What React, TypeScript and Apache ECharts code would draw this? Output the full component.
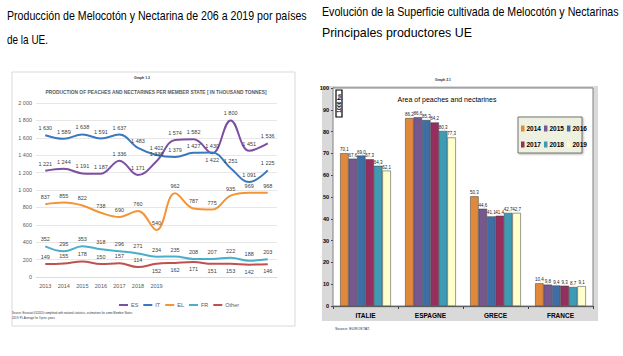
import React, { useEffect, useRef } from 'react';
import * as echarts from 'echarts';

// ---------- Page titles ----------
const leftTitleLines = ['Producción de Melocotón y Nectarina de 206 a 2019 por países', 'de la UE.'];
const rightTitleLines = ['Evolución de la Superficie cultivada de Melocotón y Nectarinas', 'Principales productores UE'];

// ---------- Left chart: production (thousand tonnes) ----------
const prodTitle = 'PRODUCTION OF PEACHES AND NECTARINES PER MEMBER STATE [ IN THOUSAND TONNES]';
const prodTickLabels = ['2013', '2014', '2015', '2016', '2017', '2018', '2019'];
const prodPointCount = 13;
const prodSeriesNames = ['ES', 'IT', 'EL', 'FR', 'Other'];
const prodES = [1221, 1244, 1191, 1187, 1336, 1171, 1330, 1574, 1582, 1422, 1800, 1451, 1536];
const prodIT = [1630, 1589, 1638, 1591, 1637, 1483, 1402, 1379, 1427, 1430, 1251, 1091, 1225];
const prodEL = [837, 855, 822, 738, 690, 760, 540, 962, 787, 775, 935, 969, 968];
const prodFR = [352, 295, 353, 318, 296, 271, 234, 235, 208, 207, 222, 188, 203];
const prodOther = [149, 155, 178, 150, 157, 114, 152, 162, 171, 151, 153, 142, 146];
const prodYTicks = { min: 0, max: 2000, interval: 200 };
const prodSource = [
  'Source: Eurostat 05/2020 completed with national statistics, estimations for some Member States',
  '2019: PL Average for 3 prev. years',
];

// ---------- Right chart: area (1000 ha) ----------
const areaTitle = 'Area of peaches and nectarines';
const areaCountries = ['ITALIE', 'ESPAGNE', 'GRECE', 'FRANCE'];
const areaYears = ['2014', '2015', '2016', '2017', '2018', '2019'];
const area2014 = [70.1, 86.2, 50.3, 10.4];
const area2015 = [67.6, 86.6, 44.6, 9.8];
const area2016 = [69.0, 85.3, 41.1, 9.4];
const area2017 = [67.3, 84.2, 41.4, 9.3];
const area2018 = [64.3, 80.3, 42.7, 8.7];
const area2019 = [62.1, 77.3, 42.7, 9.1];
const areaYTicks = { min: 0, max: 100, interval: 10 };

const NARROW = '"Liberation Sans Narrow", "Liberation Sans", Arial, sans-serif';
const SANS = '"Liberation Sans", Arial, sans-serif';

const fmtThousands = (v: number) => String(Math.round(v)).replace(/\B(?=(\d{3})+(?!\d))/g, ' ');
const fmtComma = (v: number) => v.toFixed(1).replace('.', ',');

function measure(text: string, font: string): number {
  const ctx = document.createElement('canvas').getContext('2d');
  if (!ctx) return 1;
  ctx.font = font;
  return ctx.measureText(text).width || 1;
}

function fittedText(text: string, x: number, y: number, font: string, target: number, fill: string, align = 'left'): any {
  const s = target / measure(text, font);
  return {
    type: 'text',
    x, y,
    scaleX: s,
    silent: true,
    z: 20,
    style: { text, x: 0, y: 0, font, fill, textAlign: align, textVerticalAlign: 'middle' },
  };
}

export default function App() {
  const ref = useRef<HTMLDivElement>(null);

  useEffect(() => {
    if (!ref.current) return;
    const chart = echarts.init(ref.current, undefined, { renderer: 'svg' });

    const categories = Array.from({ length: prodPointCount }, (_, i) => prodTickLabels[i] ?? '');
    const prodData = [prodES, prodIT, prodEL, prodFR, prodOther];
    const prodColors = ['#7D4FA3', '#3A78BF', '#F39537', '#4AADC9', '#C0504D'];

    const labelBelow = (si: number, i: number) => (si === 0 && i === 9) || (si === 4 && i >= 6);

    const lineSeries = prodData.map((d, si) => ({
      type: 'line',
      name: prodSeriesNames[si],
      xAxisIndex: 0,
      yAxisIndex: 0,
      smooth: 0.4,
      symbol: 'circle',
      symbolSize: 0.1,
      data: d.map((v, i) => (labelBelow(si, i) ? { value: v, label: { position: 'bottom' } } : v)),
      lineStyle: { color: prodColors[si], width: 2 },
      itemStyle: { color: prodColors[si] },
      label: {
        show: true,
        position: 'top',
        distance: 4,
        fontSize: 5.5,
        fontFamily: NARROW,
        color: '#404040',
        formatter: (p: any) => fmtThousands(p.value),
      },
    }));

    const areaData = [area2014, area2015, area2016, area2017, area2018, area2019];
    const areaColors = ['#E0893C', '#76588F', '#3F6EA6', '#952F60', '#3E9BB5', '#FFFFCC'];
    const barSeries = areaData.map((d, i) => ({
      type: 'bar',
      name: areaYears[i],
      xAxisIndex: 1,
      yAxisIndex: 1,
      data: d,
      barGap: '0%',
      barCategoryGap: '22%',
      itemStyle: { color: areaColors[i], borderColor: '#3a3a3a', borderWidth: 0.5 },
      label: {
        show: true,
        position: 'top',
        distance: 1,
        fontSize: 4.5,
        fontFamily: NARROW,
        color: '#222',
        formatter: (p: any) => fmtComma(p.value),
      },
    }));

    const titleFont = `13px ${SANS}`;

    const legendRow = (names: string[], top: number) => ({
      data: names, left: 519, top, itemWidth: 3.5, itemHeight: 6, itemGap: 3, z: 30,
      icon: 'rect', padding: 2,
      itemStyle: { borderWidth: 0 },
      textStyle: { fontSize: 6.5, fontWeight: 'bold', color: '#000', fontFamily: NARROW, padding: [0, 0, 0, -3] },
    });

    const option: any = {
      animation: false,
      backgroundColor: '#ffffff',
      textStyle: { fontFamily: NARROW },
      grid: [
        { left: 36, top: 103, width: 241, height: 174, containLabel: false },
        {
          left: 333, top: 88, width: 260, height: 218, show: true,
          backgroundColor: '#ffffff', borderColor: '#808080', borderWidth: 1, z: 1,
        },
      ],
      xAxis: [
        {
          type: 'category', gridIndex: 0, data: categories, boundaryGap: true,
          axisLine: { show: true, lineStyle: { color: '#d9d9d9', width: 0.8 } },
          axisTick: { show: false },
          axisLabel: { interval: 0, fontSize: 5.5, color: '#595959', margin: 6, fontFamily: NARROW },
        },
        {
          type: 'category', gridIndex: 1, data: areaCountries, boundaryGap: true,
          axisLine: { show: true, lineStyle: { color: '#404040', width: 1 } },
          axisTick: { show: true, length: 3, lineStyle: { color: '#404040' } },
          axisLabel: { fontSize: 6.5, fontWeight: 'bold', color: '#000', margin: 6, fontFamily: SANS },
        },
      ],
      yAxis: [
        {
          type: 'value', gridIndex: 0, ...prodYTicks,
          axisLine: { show: false }, axisTick: { show: false },
          splitLine: { lineStyle: { color: '#dcdcdc', width: 0.7 } },
          axisLabel: { fontSize: 5.5, color: '#595959', margin: 4, fontFamily: NARROW, formatter: (v: number) => fmtThousands(v) },
        },
        {
          type: 'value', gridIndex: 1, ...areaYTicks,
          axisLine: { show: true, lineStyle: { color: '#404040', width: 1 } },
          axisTick: { show: true, length: 2, lineStyle: { color: '#404040' } },
          splitLine: { lineStyle: { color: '#8a8a8a', width: 1.3 } },
          axisLabel: { fontSize: 5.5, fontWeight: 'bold', color: '#000', margin: 4, fontFamily: SANS },
        },
      ],
      legend: [
        {
          data: prodSeriesNames, left: 114, top: 297, itemWidth: 9, itemHeight: 2, itemGap: 5,
          icon: 'rect', textStyle: { fontSize: 5.5, color: '#595959', fontFamily: NARROW, padding: [0, 0, 0, -2] },
        },
        legendRow(areaYears.slice(0, 3), 123),
        legendRow(areaYears.slice(3), 139),
      ],
      graphic: [
        // left panel frame
        { type: 'rect', z: -10, silent: true, shape: { x: 12, y: 72, width: 283, height: 254 }, style: { fill: '#fff', stroke: '#d9d9d9', lineWidth: 1 } },
        // right gray frame
        { type: 'rect', z: -10, silent: true, shape: { x: 322, y: 86, width: 276, height: 235 }, style: { fill: '#d9d9d9' } },
        // legend box right
        { type: 'rect', z: 5, silent: true, shape: { x: 518, y: 117, width: 64, height: 36 }, style: { fill: '#EEF0E0', stroke: '#555', lineWidth: 0.8, shadowBlur: 2, shadowColor: 'rgba(0,0,0,0.3)', shadowOffsetX: 1, shadowOffsetY: 1 } },
        // page titles
        fittedText(leftTitleLines[0], 7, 16, titleFont, 300, '#000'),
        fittedText(leftTitleLines[1], 7, 40, titleFont, 41, '#000'),
        fittedText(rightTitleLines[0], 322, 12, titleFont, 297, '#000'),
        fittedText(rightTitleLines[1], 322, 33, titleFont, 150, '#000'),
        // left chart texts
        { type: 'text', silent: true, z: 20, style: { text: 'Graph 1.3', x: 142, y: 78, font: `bold 3.5px ${SANS}`, fill: '#333', textAlign: 'center', textVerticalAlign: 'middle' } },
        fittedText(prodTitle, 156, 92, `bold 6px ${NARROW}`, 222, '#595959', 'center'),
        { type: 'text', silent: true, z: 20, style: { text: prodSource[0], x: 12, y: 313, font: `2.8px ${SANS}`, fill: '#333', textVerticalAlign: 'middle' } },
        { type: 'text', silent: true, z: 20, style: { text: prodSource[1], x: 12, y: 318, font: `2.8px ${SANS}`, fill: '#333', textVerticalAlign: 'middle' } },
        // right chart texts
        { type: 'text', silent: true, z: 20, style: { text: 'Graph 2.1', x: 443, y: 80, font: `bold 3.5px ${SANS}`, fill: '#333', textAlign: 'center', textVerticalAlign: 'middle' } },
        { type: 'text', silent: true, z: 20, style: { text: areaTitle, x: 447, y: 99, font: `7px ${SANS}`, fill: '#000', textAlign: 'center', textVerticalAlign: 'middle' } },
        { type: 'rect', z: 20, silent: true, shape: { x: 336, y: 90, width: 6, height: 27 }, style: { fill: '#fff', stroke: '#000', lineWidth: 1.2 } },
        { type: 'text', z: 21, silent: true, x: 339, y: 103.5, rotation: Math.PI / 2, style: { text: '1000 ha', x: 0, y: 0, font: `bold 5px ${SANS}`, fill: '#000', textAlign: 'center', textVerticalAlign: 'middle' } },
        { type: 'text', silent: true, z: 20, style: { text: 'Source: EUROSTAT.', x: 335, y: 329, font: `3.8px ${SANS}`, fill: '#333', textVerticalAlign: 'middle' } },
      ],
      series: [...lineSeries, ...barSeries],
    };

    chart.setOption(option);
    return () => chart.dispose();
  }, []);

  return <div ref={ref} style={{ position: 'absolute', left: 0, top: 0, width: 623, height: 356 }} />;
}
